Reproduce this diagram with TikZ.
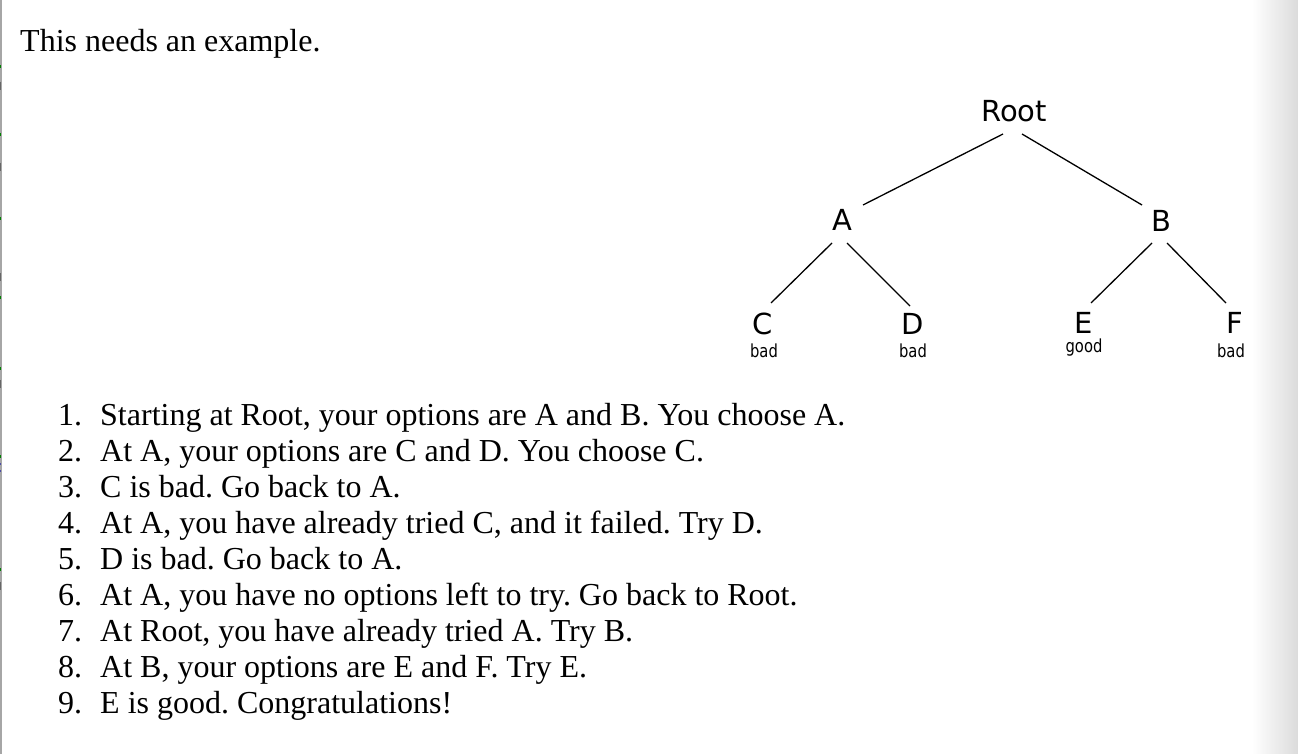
\documentclass[tikz,border=0pt]{standalone}
\usepackage{fontspec}
\setmainfont{Liberation Serif}
\newfontfamily\treefont{DejaVu Sans}
\frenchspacing
\tikzset{
  pagetext/.style={anchor=base west, inner sep=0pt, font=\fontsize{32}{36}\selectfont},
  numtext/.style={anchor=base west, inner sep=0pt, font=\fontsize{32}{36}\selectfont},
  treelabel/.style={anchor=base, inner sep=0pt, font=\treefont\fontsize{29}{29}\selectfont},
  verdict/.style={anchor=base, inner sep=0pt, font=\treefont\fontsize{18}{18}\selectfont},
  edge/.style={line width=1.3pt, black},
  tick/.style={line width=1.6pt},
}
\newcommand{\narrow}[1]{\scalebox{0.82}[1]{#1}}
\begin{document}
\begin{tikzpicture}[x=1pt,y=-1pt]
\useasboundingbox (0,0) rectangle (1298,754);
\fill[white] (0,0) rectangle (1298,754);
% right gray gradient band
\shade[left color=white, right color=black!14] (1252,0) rectangle (1298,754);
% left border line with small marks
\draw[line width=1.5pt, black!35] (1.2,0) -- (1.2,754);
\foreach \yy in {65,133,217,296,367,455,568} {\draw[tick, green!50!black] (0.5,\yy) -- (0.5,\yy+3);}
\foreach \yy in {82,163,273,380,582} {\draw[tick, black!60] (0.5,\yy) -- (0.5,\yy+8);}
\foreach \yy in {463,470} {\draw[tick, blue!50!black!70] (0.5,\yy) -- (0.5,\yy+2);}

% title
\node[pagetext] (title) at (20,52) {This needs an example.};

% tree
\node[treelabel] (root) at (1014,122) {Root};
\node[treelabel] (a) at (842,230) {A};
\node[treelabel] (b) at (1161,231) {B};
\node[treelabel] (c) at (763,334) {C};
\node[treelabel] (d) at (913,334) {D};
\node[treelabel] (e) at (1084,333) {E};
\node[treelabel] (f) at (1235,333) {F};
\node[verdict] (cv) at (764,357) {\narrow{bad}};
\node[verdict] (dv) at (913,357) {\narrow{bad}};
\node[verdict] (ev) at (1084,352) {\narrow{good}};
\node[verdict] (fv) at (1231,357) {\narrow{bad}};

\draw[edge] ([shift={(-11,12)}]root.base) -- ([shift={(21,-25)}]a.base);
\draw[edge] ([shift={(8,12)}]root.base) -- ([shift={(-19,-26)}]b.base);
\draw[edge] ([shift={(-10,13)}]a.base) -- ([shift={(8,-31)}]c.base);
\draw[edge] ([shift={(5,13)}]a.base) -- ([shift={(-3,-28)}]d.base);
\draw[edge] ([shift={(-9,12)}]b.base) -- ([shift={(7,-30)}]e.base);
\draw[edge] ([shift={(6,12)}]b.base) -- ([shift={(-9,-30)}]f.base);

% numbered list
\foreach \n/\t [count=\i from 0] in {
  1/{Starting at Root, your options are A and B. You choose A.},
  2/{At A, your options are C and D. You choose C.},
  3/{C is bad. Go back to A.},
  4/{At A, you have already tried C, and it failed. Try D.},
  5/{D is bad. Go back to A.},
  6/{At A, you have no options left to try. Go back to Root.},
  7/{At Root, you have already tried A. Try B.},
  8/{At B, your options are E and F. Try E.},
  9/{E is good. Congratulations!}} {
  \node[numtext] (num\n) at (58,425+36*\i) {\n.};
  \node[pagetext] (item\n) at (100,425+36*\i) {\t};
}
\end{tikzpicture}
\end{document}
